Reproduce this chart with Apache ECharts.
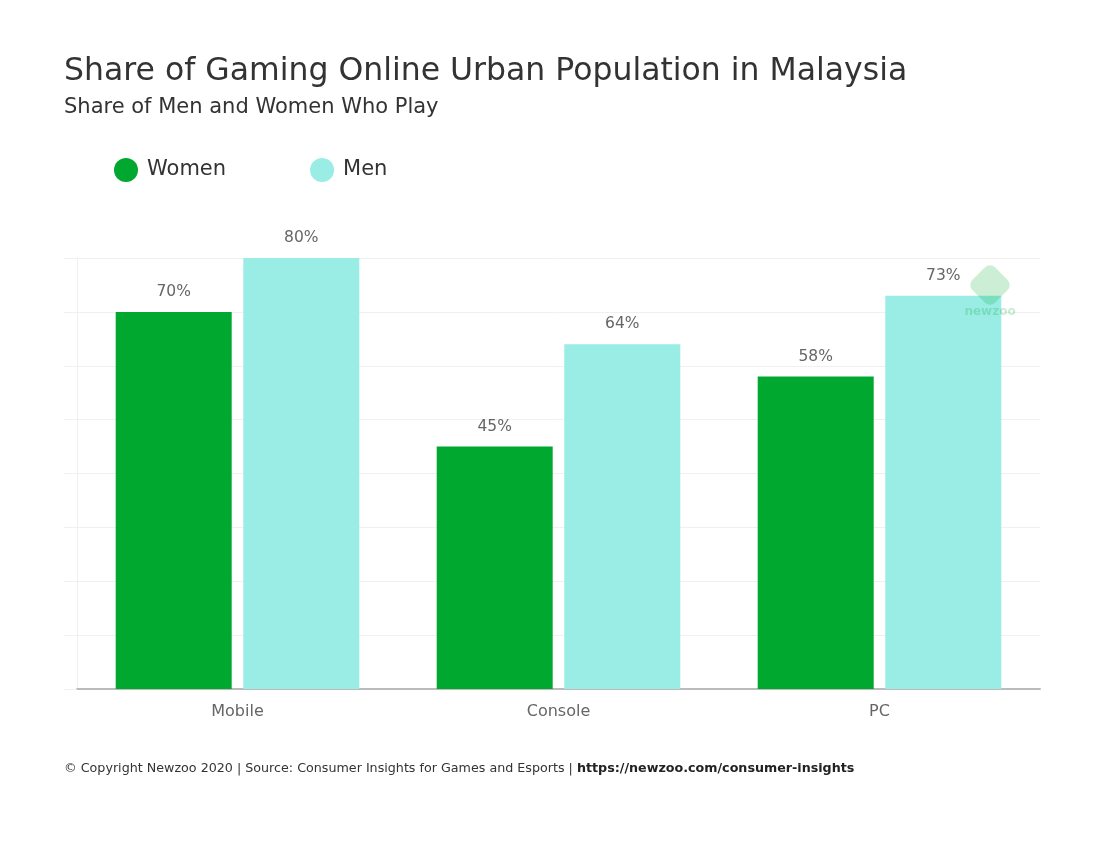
<!DOCTYPE html>
<html>
<head>
<meta charset="utf-8">
<script src="https://cdn.jsdelivr.net/npm/echarts@6/dist/echarts.min.js"></script>
<style>
html, body { margin: 0; padding: 0; background: #fff; }
#chart { width: 1107px; height: 845px; }
</style>
</head>
<body>
<div id="chart"></div>
<script>
// data
const categories = ['Mobile', 'Console', 'PC'];
const women = [70, 45, 58];
const men = [80, 64, 73];

const font = 'DejaVu Sans';
let myChart = echarts.init(document.getElementById('chart'));

myChart.setOption({
    backgroundColor: '#fff',
    title: [
        {
            text: 'Share of Gaming Online Urban Population in Malaysia',
            subtext: 'Share of Men and Women Who Play',
            left: 59,
            top: 51,
            itemGap: 9,
            textStyle: { fontFamily: font, fontSize: 31.5, fontWeight: 'normal', color: '#333' },
            subtextStyle: { fontFamily: font, fontSize: 21, color: '#333' }
        },
        {
            text: '© Copyright Newzoo 2020 | Source: Consumer Insights for Games and Esports | {b|https://newzoo.com/consumer-insights}',
            left: 59,
            top: 757,
            textStyle: {
                fontFamily: font, fontSize: 12.7, fontWeight: 'normal', color: '#333',
                rich: { b: { fontFamily: font, fontSize: 12.7, fontWeight: 'bold', color: '#222' } }
            }
        }
    ],
    legend: {
        data: ['Women', 'Men'],
        left: 114,
        top: 158,
        padding: 0,
        icon: 'circle',
        itemWidth: 24,
        itemHeight: 24,
        itemGap: 84,
        textStyle: { fontFamily: font, fontSize: 21, color: '#333', padding: [0, 0, 0, 4] }
    },
    grid: { left: 77, right: 67, top: 258, bottom: 156 },
    xAxis: {
        type: 'category',
        data: categories,
        axisLine: { lineStyle: { color: '#bbb', width: 2 } },
        axisTick: { show: false },
        axisLabel: { fontFamily: font, fontSize: 16, color: '#666', margin: 15 }
    },
    yAxis: {
        type: 'value',
        min: 0,
        max: 80,
        interval: 10,
        axisLine: { show: true, lineStyle: { color: '#f0f0f0' } },
        axisTick: { show: true, length: 13, lineStyle: { color: '#f0f0f0' } },
        axisLabel: { show: false },
        splitLine: { lineStyle: { color: '#f0f0f0' } }
    },
    series: [
        {
            name: 'Women',
            type: 'bar',
            data: women,
            barWidth: 116,
            barGap: '10%',
            itemStyle: { color: '#00a82f' },
            label: {
                show: true, position: 'top', distance: 12,
                formatter: '{c}%', fontFamily: font, fontSize: 15.5, color: '#666'
            }
        },
        {
            name: 'Men',
            type: 'bar',
            data: men,
            barWidth: 116,
            itemStyle: { color: '#99ede4' },
            label: {
                show: true, position: 'top', distance: 12,
                formatter: '{c}%', fontFamily: font, fontSize: 15.5, color: '#666'
            }
        }
    ],
    graphic: [
        {
            type: 'rect',
            x: 990, y: 285,
            rotation: Math.PI / 4,
            shape: { x: -16, y: -16, width: 32, height: 32, r: 7 },
            style: { fill: 'rgba(0,168,47,0.2)' },
            z: 100
        },
        {
            type: 'text',
            x: 990, y: 306,
            style: {
                text: 'newzoo', fontFamily: font, fontSize: 12, fontWeight: 'bold',
                fill: 'rgba(0,168,47,0.22)', align: 'center'
            },
            z: 100
        }
    ]
});

window.addEventListener('resize', function () {
    myChart.resize();
});
</script>
</body>
</html>
